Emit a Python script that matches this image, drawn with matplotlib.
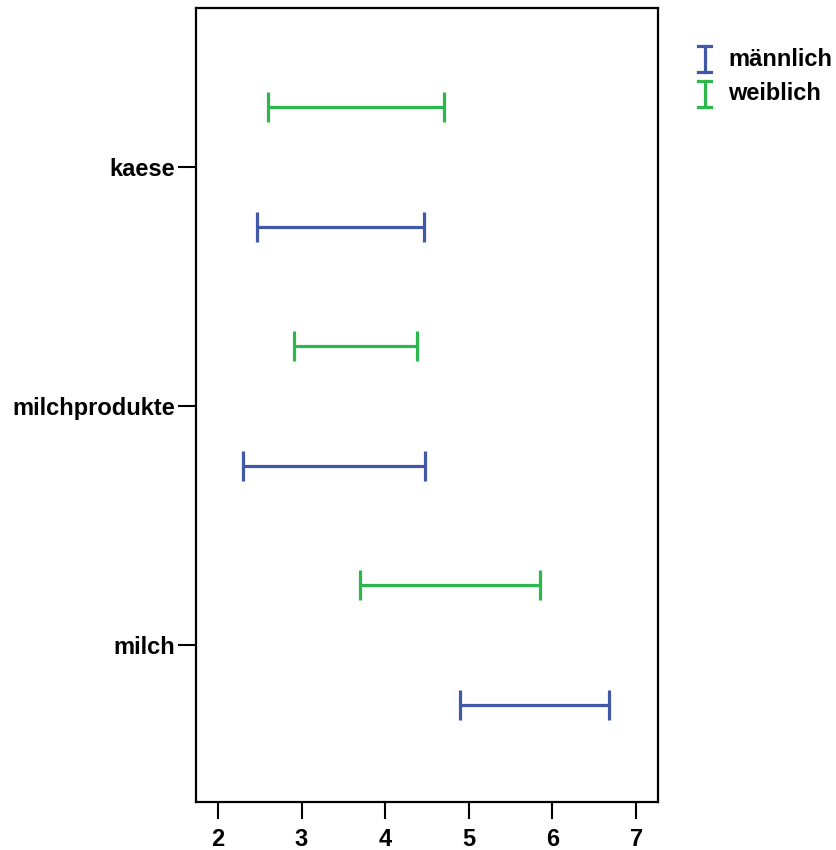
import numpy as np
import matplotlib.pyplot as plt
from matplotlib.lines import Line2D

plt.rcParams['font.family'] = ['Liberation Sans', 'DejaVu Sans']
plt.rcParams['font.weight'] = 'bold'

# categories from bottom to top
categories = ['milch', 'milchprodukte', 'kaese']

# interval ends (lower, upper)
maennlich_lo = [4.89, 2.30, 2.47]
maennlich_hi = [6.67, 4.48, 4.46]
weiblich_lo = [3.70, 2.91, 2.60]
weiblich_hi = [5.85, 4.38, 4.70]

groups = ['männlich', 'weiblich']
colors = ['#3f58a8', '#2cb84a']

fig = plt.figure(figsize=(8.37, 8.5), dpi=100)
ax = fig.add_axes([0.234, 0.0565, 0.552, 0.934])

pos = np.arange(len(categories))
for lo, hi, off, col in [(maennlich_lo, maennlich_hi, -0.25, colors[0]),
                         (weiblich_lo, weiblich_hi, 0.25, colors[1])]:
    lo = np.array(lo)
    hi = np.array(hi)
    mid = (lo + hi) / 2
    ax.errorbar(mid, pos + off, xerr=(hi - lo) / 2, fmt='none',
                ecolor=col, elinewidth=2.3, capsize=11, capthick=2.3)

ax.set_xlim(1.737, 7.26)
ax.set_ylim(-0.657, 2.665)
ax.set_xticks([2, 3, 4, 5, 6, 7])
ax.set_yticks(pos)
ax.set_yticklabels(categories)
ax.tick_params(axis='both', labelsize=17, width=1.5, length=13, pad=2)
ax.tick_params(axis='x', pad=7, length=12)
for s in ax.spines.values():
    s.set_linewidth(1.6)

# legend drawn by hand: vertical I-shaped markers
W, H = 837.0, 850.0
def px(x, y):
    return x / W, 1 - y / H

for i, (g, col) in enumerate(zip(groups, colors)):
    y0 = 46 + i * 35
    y1 = y0 + 26
    xc = 705
    for xs, ys in [([xc, xc], [y0, y1]), ([xc - 6.5, xc + 6.5], [y0, y0]), ([xc - 6.5, xc + 6.5], [y1, y1])]:
        a = [px(x, y) for x, y in zip(xs, ys)]
        fig.add_artist(Line2D([a[0][0], a[1][0]], [a[0][1], a[1][1]], color=col, lw=2.3,
                              transform=fig.transFigure))
    tx, ty = px(728, (y0 + y1) / 2)
    fig.text(tx, ty, g, fontsize=17, fontweight='bold', va='center', ha='left')

fig.savefig('out.png', dpi=100)
